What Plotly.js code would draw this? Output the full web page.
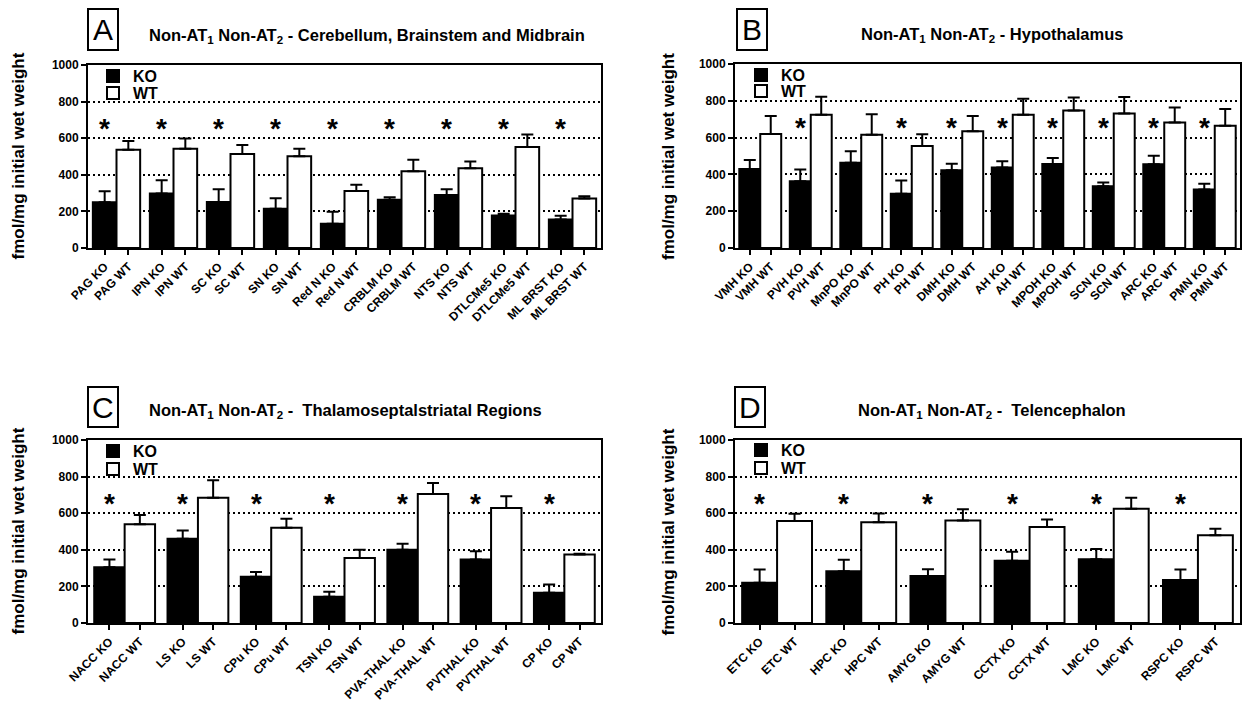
<!DOCTYPE html>
<html>
<head>
<meta charset="utf-8">
<script src="https://cdn.plot.ly/plotly-3.0.1.min.js"></script>
<style>html,body{margin:0;padding:0;background:#fff;}#chart{width:1242px;height:701px;}</style>
</head>
<body>
<div id="chart"></div>
<script>
// ---------------- DATA ----------------
const regionsA = ['PAG','IPN','SC','SN','Red N','CRBLM','NTS','DTLCMe5','ML BRST'];
const koA      = [250, 298, 251, 215, 132, 264, 290, 178, 156];
const koErrA   = [60, 72, 70, 57, 66, 13, 31, 9, 20];
const wtA      = [537, 542, 513, 502, 312, 420, 436, 552, 270];
const wtErrA   = [48, 57, 50, 40, 33, 62, 37, 68, 13];
const sigA     = [1,1,1,1,1,1,1,1,1];

const regionsB = ['VMH','PVH','MnPO','PH','DMH','AH','MPOH','SCN','ARC','PMN'];
const koB      = [430, 363, 463, 295, 422, 437, 457, 335, 455, 318];
const koErrB   = [48, 63, 63, 72, 36, 34, 32, 21, 47, 31];
const wtB      = [620, 724, 615, 555, 635, 724, 747, 731, 682, 664];
const wtErrB   = [98, 98, 112, 63, 83, 87, 71, 89, 82, 92];
const sigB     = [0,1,0,1,1,1,1,1,1,1];

const regionsC = ['NACC','LS','CPu','TSN','PVA-THAL','PVTHAL','CP'];
const koC      = [305, 460, 253, 143, 400, 347, 165];
const koErrC   = [42, 46, 26, 28, 33, 45, 45];
const wtC      = [540, 685, 520, 355, 705, 628, 375];
const wtErrC   = [50, 95, 50, 45, 60, 65, 4];
const sigC     = [1,1,1,1,1,1,1];

const regionsD = ['ETC','HPC','AMYG','CCTX','LMC','RSPC'];
const koD      = [220, 283, 257, 340, 348, 235];
const koErrD   = [72, 63, 37, 50, 57, 57];
const wtD      = [557, 550, 560, 525, 625, 480];
const wtErrD   = [40, 48, 62, 40, 60, 35];
const sigD     = [1,1,1,1,1,1];

const titles = [
  'Non-AT<sub>1</sub> Non-AT<sub>2</sub> - Cerebellum, Brainstem and Midbrain',
  'Non-AT<sub>1</sub> Non-AT<sub>2</sub> - Hypothalamus',
  'Non-AT<sub>1</sub> Non-AT<sub>2</sub> -  Thalamoseptalstriatal Regions',
  'Non-AT<sub>1</sub> Non-AT<sub>2</sub> -  Telencephalon'
];
const letters = ['A','B','C','D'];
const yTitle = 'fmol/mg initial wet weight';
const groupNames = ['KO','WT'];
const yTicks = [0,200,400,600,800,1000];

// ---------------- LAYOUT HELPERS ----------------
const W = 1242, H = 701;
const FONT = 'Liberation Sans, Arial, Helvetica, sans-serif';
const px = p => p / W;
const py = p => 1 - p / H;
const BARGAP = 0.17;
const OFF = (1 - BARGAP) / 4;

const panels = [
  {reg: regionsA, ko: koA, koE: koErrA, wt: wtA, wtE: wtErrA, sig: sigA,
   box: [88, 601, 65, 248], titleX: 367, titleY: 36, letterBox: [88, 118, 9, 50], legX: 93, legY: [76, 93], yTitleX: 18},
  {reg: regionsB, ko: koB, koE: koErrB, wt: wtB, wtE: wtErrB, sig: sigB,
   box: [735, 1240, 64, 248], titleX: 992, titleY: 35, letterBox: [737, 767, 9, 50], legX: 741, legY: [75, 91], yTitleX: 668},
  {reg: regionsC, ko: koC, koE: koErrC, wt: wtC, wtE: wtErrC, sig: sigC,
   box: [88, 601, 440, 623], titleX: 345, titleY: 411, letterBox: [88, 118, 387, 427], legX: 93, legY: [451, 469], yTitleX: 18},
  {reg: regionsD, ko: koD, koE: koErrD, wt: wtD, wtE: wtErrD, sig: sigD,
   box: [735, 1240, 440, 623], titleX: 992, titleY: 411, letterBox: [735, 765, 387, 427], legX: 741, legY: [450, 468], yTitleX: 668}
];

const data = [];
const layout = {
  width: W, height: H,
  margin: {l: 0, r: 0, t: 0, b: 0},
  paper_bgcolor: '#fff', plot_bgcolor: '#fff',
  barmode: 'group', bargap: BARGAP, bargroupgap: 0,
  showlegend: true,
  font: {family: FONT, color: '#000'},
  annotations: [], shapes: []
};

panels.forEach((p, k) => {
  const n = p.reg.length;
  const idx = k + 1;
  const xa = idx === 1 ? 'x' : 'x' + idx;
  const ya = idx === 1 ? 'y' : 'y' + idx;
  const ov = 'x' + (idx + 4);
  const legKO = 2 * k + 1 === 1 ? 'legend' : 'legend' + (2 * k + 1);
  const legWT = 'legend' + (2 * k + 2);
  const zeros = p.ko.map(() => 0);

  data.push({
    type: 'bar', name: groupNames[0], x: p.reg, y: p.ko, xaxis: xa, yaxis: ya, legend: legKO,
    marker: {color: '#000', line: {color: '#000', width: 2}},
    error_y: {type: 'data', symmetric: false, array: p.koE, arrayminus: zeros, color: '#000', thickness: 2, width: 6},
    hoverinfo: 'skip'
  });
  data.push({
    type: 'bar', name: groupNames[1], x: p.reg, y: p.wt, xaxis: xa, yaxis: ya, legend: legWT,
    marker: {color: '#fff', line: {color: '#000', width: 2}},
    error_y: {type: 'data', symmetric: false, array: p.wtE, arrayminus: zeros, color: '#000', thickness: 2, width: 6},
    hoverinfo: 'skip'
  });

  const [x0, x1, y0, y1] = p.box;
  const xKey = idx === 1 ? 'xaxis' : 'xaxis' + idx;
  const yKey = idx === 1 ? 'yaxis' : 'yaxis' + idx;
  layout[xKey] = {
    domain: [px(x0), px(x1)], anchor: ya, type: 'category',
    range: [-0.5, n - 0.5], showticklabels: false, ticks: '',
    showline: true, mirror: true, linewidth: 2, linecolor: '#000',
    showgrid: false, zeroline: false, fixedrange: true
  };
  layout[yKey] = {
    domain: [py(y1), py(y0)], anchor: xa, range: [0, 1000],
    tickvals: yTicks, ticks: 'outside', ticklen: 5, tickwidth: 2, tickcolor: '#000',
    showline: true, mirror: true, linewidth: 2, linecolor: '#000',
    showgrid: true, gridcolor: '#000', gridwidth: 2, griddash: '2px,3px',
    zeroline: false, fixedrange: true,
    tickfont: {family: FONT, size: 12, weight: 700, color: '#000'}
  };
  // per-bar tick labels on an overlaid numeric axis
  const tv = [], tt = [];
  p.reg.forEach((r, i) => {
    tv.push(i - OFF); tt.push(r + ' ' + groupNames[0]);
    tv.push(i + OFF); tt.push(r + ' ' + groupNames[1]);
  });
  layout['xaxis' + (idx + 4)] = {
    overlaying: xa, anchor: ya, side: 'bottom', range: [-0.5, n - 0.5],
    tickmode: 'array', tickvals: tv, ticktext: tt, tickangle: -45,
    ticks: 'outside', ticklen: 6, tickwidth: 2, tickcolor: '#000',
    showline: false, showgrid: false, zeroline: false, fixedrange: true,
    tickfont: {family: FONT, size: 12, weight: 700, color: '#000'}
  };
  // legends (one per series so the rows can sit as close as in the reference)
  [legKO, legWT].forEach((ln, j) => {
    layout[ln] = {
      x: px(p.legX), y: py(p.legY[j]), xanchor: 'left', yanchor: 'middle',
      bgcolor: 'rgba(0,0,0,0)', borderwidth: 0,
      font: {family: FONT, size: 16, weight: 700, color: '#000'}
    };
  });
  // significance stars
  p.sig.forEach((s, i) => {
    if (s) layout.annotations.push({
      xref: ov, yref: ya, x: i - OFF, y: 655, text: '<b>*</b>', showarrow: false,
      font: {family: FONT, size: 28, color: '#000'}
    });
  });
  // panel title
  layout.annotations.push({
    xref: 'paper', yref: 'paper', x: px(p.titleX), y: py(p.titleY), xanchor: 'center', yanchor: 'middle',
    text: '<b>' + titles[k] + '</b>', showarrow: false,
    font: {family: FONT, size: 16.5, color: '#000'}
  });
  // y-axis title
  layout.annotations.push({
    xref: 'paper', yref: 'paper', x: px(p.yTitleX), y: py((y0 + y1) / 2), xanchor: 'center', yanchor: 'middle',
    text: '<b>' + yTitle + '</b>', textangle: -90, showarrow: false,
    font: {family: FONT, size: 17, color: '#000'}
  });
  // panel letter box
  const [lx0, lx1, ly0, ly1] = p.letterBox;
  layout.shapes.push({
    type: 'rect', xref: 'paper', yref: 'paper', x0: px(lx0), x1: px(lx1), y0: py(ly1), y1: py(ly0),
    line: {color: '#000', width: 2}, fillcolor: 'rgba(0,0,0,0)'
  });
  layout.annotations.push({
    xref: 'paper', yref: 'paper', x: px((lx0 + lx1) / 2), y: py((ly0 + ly1) / 2), xanchor: 'center', yanchor: 'middle',
    text: letters[k], showarrow: false, font: {family: FONT, size: 30, color: '#000'}
  });
});

Plotly.newPlot('chart', data, layout, {displayModeBar: false, staticPlot: true});
</script>
</body>
</html>
